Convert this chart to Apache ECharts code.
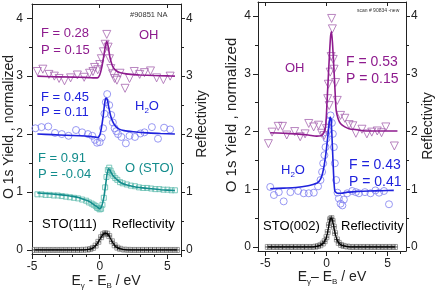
<!DOCTYPE html>
<html>
<head>
<meta charset="utf-8">
<script src="https://cdn.jsdelivr.net/npm/echarts@6/dist/echarts.min.js"></script>
<style>
  html, body { margin: 0; padding: 0; background: #fff; }
  #chart { width: 438px; height: 294px; }
</style>
</head>
<body>
<div id="chart"></div>
<script>
  // ---- left panel, STO(111) ----
  const lOhX = [-4.6,-4.2,-3.75,-3.35,-3.0,-2.6,-2.15,-1.65,-1.15,-0.75,-0.5,-0.38,-0.15,0.0,0.12,0.27,0.4,0.52,0.62,0.72,0.82,0.95,1.1,1.27,1.5,1.87,2.2,2.55,2.95,3.3,3.75,4.2,4.7,5.2];
  const lOhY = [3.08,3.12,3.03,3.0,2.96,2.92,2.97,3.02,2.98,3.05,3.08,3.15,3.11,3.2,3.3,3.42,3.55,3.72,3.5,3.3,3.13,3.04,2.96,2.93,3.05,2.79,2.96,3.08,3.03,3.06,3.09,2.97,2.94,3.0];
  const lOhFitX = [-4.6,-3.5,-2.5,-1.5,-0.8,-0.4,-0.17,0.0,0.15,0.3,0.42,0.52,0.62,0.75,0.9,1.05,1.3,1.7,2.3,3.0,4.0,5.0,5.55];
  const lOhFitY = [3.0,2.99,2.985,2.98,2.975,2.97,2.97,3.02,3.15,3.35,3.52,3.6,3.52,3.33,3.2,3.13,3.08,3.05,3.03,3.02,3.01,3.005,3.0];

  const lH2oX = [-4.75,-4.3,-3.8,-3.3,-2.8,-2.3,-1.75,-1.3,-0.87,-0.55,-0.35,-0.2,0.0,0.15,0.25,0.35,0.45,0.55,0.7,0.85,0.97,1.1,1.22,1.35,1.6,1.93,2.2,2.6,3.0,3.3,3.85,4.3,4.75,5.2];
  const lH2oY = [2.1,2.12,2.13,2.02,2.0,1.97,2.07,2.03,2.0,1.97,1.9,1.85,1.86,1.94,2.1,2.35,2.55,2.69,2.5,2.33,2.2,2.1,2.05,2.0,1.95,1.84,1.97,1.95,2.01,2.03,2.12,1.92,2.11,2.08];
  const lH2oFitX = [-4.6,-3.5,-2.5,-1.5,-0.8,-0.4,-0.15,0.0,0.12,0.25,0.35,0.45,0.55,0.68,0.8,0.95,1.15,1.4,1.8,2.5,3.5,4.5,5.55];
  const lH2oFitY = [2.0,1.99,1.98,1.97,1.96,1.95,1.94,1.98,2.1,2.3,2.5,2.62,2.6,2.45,2.32,2.22,2.14,2.09,2.06,2.04,2.02,2.01,2.0];

  const lStoX = [-4.6,-4.3,-4.0,-3.7,-3.4,-3.1,-2.8,-2.5,-2.2,-1.9,-1.6,-1.3,-1.0,-0.8,-0.6,-0.45,-0.3,-0.2,-0.1,0.0,0.1,0.2,0.3,0.4,0.5,0.6,0.7,0.8,0.9,1.0,1.15,1.3,1.5,1.7,2.0,2.3,2.6,2.9,3.2,3.5,3.8,4.1,4.4,4.7,5.0,5.3,5.55];
  const lStoY = [0.96,0.96,0.95,0.95,0.94,0.94,0.93,0.92,0.91,0.9,0.89,0.87,0.85,0.82,0.8,0.78,0.76,0.73,0.72,0.70,0.71,0.78,0.9,1.08,1.26,1.38,1.42,1.37,1.32,1.28,1.24,1.21,1.17,1.15,1.13,1.11,1.1,1.08,1.07,1.07,1.06,1.05,1.05,1.04,1.04,1.03,1.03];
  const lStoFitX = [-4.6,-4.0,-3.0,-2.4,-2.0,-1.5,-1.16,-0.8,-0.54,-0.3,-0.17,0.0,0.1,0.2,0.32,0.45,0.55,0.65,0.75,0.9,1.1,1.3,1.56,2.0,2.55,3.0,3.8,4.5,5.55];
  const lStoFitY = [0.985,0.975,0.955,0.94,0.925,0.9,0.87,0.84,0.8,0.76,0.74,0.71,0.73,0.8,0.93,1.15,1.32,1.40,1.38,1.31,1.25,1.21,1.16,1.12,1.09,1.075,1.055,1.04,1.025];

  const lReflX = [-4.8,-4.5,-4.2,-3.9,-3.6,-3.3,-3.0,-2.7,-2.4,-2.1,-1.8,-1.5,-1.2,-0.9,-0.7,-0.5,-0.3,-0.1,0.1,0.25,0.4,0.55,0.7,0.9,1.1,1.3,1.5,1.8,2.1,2.4,2.7,3.0,3.3,3.6,3.9,4.2,4.5,4.8,5.1,5.4,5.7];
  const lReflY = [0,0,0,0,0,0,0,0,0,0,0,0,0.002,0.006,0.015,0.035,0.075,0.14,0.22,0.27,0.29,0.28,0.24,0.15,0.08,0.04,0.02,0.006,0.002,0,0,0,0,0,0,0,0,0,0,0,0];

  // ---- right panel, STO(002) ----
  const rOhX = [-4.75,-4.45,-3.95,-3.6,-3.25,-2.6,-2.15,-1.75,-1.45,-1.05,-0.65,-0.4,-0.2,0.0,0.1,0.15,0.22,0.3,0.38,0.42,0.48,0.55,0.62,0.75,0.88,1.15,1.5,1.85,2.15,2.4,2.9,3.3,3.7,4.15,4.5,4.85,5.55];
  const rOhY = [1.79,1.99,2.09,2.09,1.94,2.0,1.91,1.96,2.14,2.08,2.11,1.97,1.93,2.05,2.57,2.82,2.45,3.03,3.3,3.96,3.78,3.25,3.08,2.85,2.54,2.28,2.23,2.12,2.1,1.97,2.04,1.96,1.99,2.01,1.98,2.08,1.75];
  const rOhFitX = [-4.6,-3.5,-2.5,-1.5,-0.8,-0.35,-0.08,0.05,0.19,0.33,0.41,0.5,0.6,0.7,0.79,0.95,1.14,1.5,1.83,2.5,3.2,4.5,5.8];
  const rOhFitY = [1.98,1.97,1.96,1.94,1.92,1.94,2.08,2.54,3.12,3.64,3.73,3.5,3.12,2.7,2.37,2.22,2.14,2.08,2.05,2.03,2.01,2.01,2.01];

  const rH2oX = [-4.6,-4.3,-3.9,-3.5,-2.95,-2.32,-1.86,-1.45,-1.04,-0.69,-0.49,-0.36,-0.27,-0.17,-0.08,0.0,0.11,0.22,0.33,0.44,0.52,0.6,0.68,0.79,0.9,1.01,1.15,1.3,1.42,1.69,2.1,2.4,2.65,3.14,3.6,4.0,4.3,4.7,5.11];
  const rH2oY = [1.04,0.9,0.95,0.79,0.95,0.97,0.93,0.93,0.94,1.05,1.16,1.3,1.45,1.59,1.73,1.88,2.02,2.18,2.28,2.15,1.96,1.73,1.45,1.16,0.94,0.84,0.75,0.72,0.82,0.93,0.97,0.95,0.93,0.95,0.93,0.98,0.94,0.97,0.74];
  const rH2oFitX = [-4.6,-3.5,-2.5,-1.5,-1.0,-0.74,-0.5,-0.33,-0.2,-0.05,0.1,0.22,0.3,0.38,0.45,0.55,0.62,0.68,0.75,0.9,1.2,1.72,2.5,3.5,4.5,5.5];
  const rH2oFitY = [1.01,1.02,1.03,1.06,1.09,1.11,1.17,1.27,1.4,1.62,1.9,2.15,2.25,2.2,1.9,1.4,1.1,0.97,0.95,0.93,0.93,0.95,0.96,0.97,0.975,0.98];

  const rReflX = [-4.8,-4.5,-4.2,-3.9,-3.6,-3.3,-3.0,-2.7,-2.4,-2.1,-1.8,-1.5,-1.2,-0.9,-0.7,-0.5,-0.3,-0.15,0.0,0.1,0.2,0.3,0.4,0.5,0.6,0.7,0.85,1.0,1.2,1.4,1.7,2.0,2.3,2.6,2.9,3.2,3.5,3.8,4.1,4.4,4.7,5.0,5.3,5.6];
  const rReflY = [0,0,0,0,0,0,0,0,0,0,0,0,0,0.005,0.015,0.03,0.06,0.1,0.17,0.26,0.38,0.48,0.5,0.45,0.35,0.24,0.13,0.07,0.035,0.018,0.007,0,0,0,0,0,0,0,0,0,0,0,0,0];

  // ticks
  const yMajor = [0, 1, 2, 3, 4];
  const yMinor = [0.5, 1.5, 2.5, 3.5];
  const xMajor = [-5, 0, 5];
  const xMinor = [-4, -3, -2, -1, 1, 2, 3, 4, 6];

  const FONT = "Liberation Sans, Arial, sans-serif";
  const INK = "#222";
  const PURPLE = "#8e1b8e", PURPLE_PT = "#a866b0";
  const BLUE = "#1f22dd", BLUE_PT = "#7f7ff0";
  const TEAL = "#138c8c", TEAL_PT = "#5fbcae";

  function pts(xs, ys) { return xs.map((x, i) => [x, ys[i]]); }

  function xAx(grid, pos, range, ticks, labels, len, inside, line) {
    return {
      type: "value", gridIndex: grid, position: pos, min: range[0], max: range[1],
      axisLine: { show: line, onZero: false, lineStyle: { color: INK } },
      axisTick: { show: true, inside: inside, length: len, customValues: ticks, lineStyle: { color: INK } },
      axisLabel: labels
        ? { show: true, customValues: labels, margin: 7, color: INK, fontSize: 12, fontFamily: FONT }
        : { show: false },
      splitLine: { show: false },
    };
  }

  function yAx(grid, pos, ticks, labels, len, margin, line) {
    return {
      type: "value", gridIndex: grid, position: pos, min: -0.07, max: 4.245, offset: 0,
      axisLine: { show: line, onZero: false, lineStyle: { color: INK } },
      axisTick: { show: true, length: len, customValues: ticks, lineStyle: { color: INK } },
      axisLabel: labels
        ? { show: true, customValues: labels, margin: margin, color: INK, fontSize: 12, fontFamily: FONT }
        : { show: false },
      splitLine: { show: false },
    };
  }

  function scatter(xi, yi, data, symbol, size, color, rotate) {
    return {
      type: "scatter", xAxisIndex: xi, yAxisIndex: yi, data: data, z: 2,
      symbol: symbol, symbolSize: size, symbolRotate: rotate || 0,
      itemStyle: { color: "rgba(0,0,0,0)", borderColor: color, borderWidth: 1 },
      silent: true,
    };
  }

  function fit(xi, yi, data, color, width) {
    return {
      type: "line", xAxisIndex: xi, yAxisIndex: yi, data: data, z: 3,
      showSymbol: false, smooth: 0.25,
      lineStyle: { color: color, width: width || 1.6 },
      silent: true,
    };
  }

  const PLUS = "path://M5,0L5,10M0,5L10,5";

  function txt(x, y, text, color, size, align) {
    return {
      type: "text", x: x, y: y, silent: true,
      style: { text: text, fill: color, font: size + "px " + FONT, align: align || "left", verticalAlign: "middle" },
    };
  }

  function subTxt(x, y, parts, color, size, align) {
    return {
      type: "text", x: x, y: y, silent: true,
      style: {
        text: parts, align: align || "left", verticalAlign: "middle",
        fill: color, font: size + "px " + FONT,
        rich: {
          n: { fill: color, color: color, fontSize: size, fontFamily: FONT },
          s: { fill: color, color: color, fontSize: 8, fontFamily: FONT, padding: [10, 0, 0, 0] },
        },
      },
    };
  }

  function vTxt(x, y, text, size) {
    return {
      type: "text", x: x, y: y, rotation: Math.PI / 2, silent: true,
      style: { text: text, fill: INK, font: size + "px " + FONT, align: "center", verticalAlign: "middle" },
    };
  }

  const chart = echarts.init(document.getElementById("chart"), null, { renderer: "canvas" });

  chart.setOption({
    animation: false,
    backgroundColor: "#fff",
    grid: [
      { left: 32, top: 4, width: 149, height: 250 },
      { left: 258, top: 2, width: 148, height: 249 },
    ],
    xAxis: [
      xAx(0, "bottom", [-5, 6], xMajor, xMajor, 5, false, true),
      xAx(0, "bottom", [-5, 6], xMinor, null, 3, false, false),
      xAx(0, "top", [-5, 6], xMajor, null, 4, true, true),
      xAx(1, "bottom", [-5.6, 6.5], xMajor, xMajor, 5, false, true),
      xAx(1, "bottom", [-5.6, 6.5], xMinor, null, 3, false, false),
      xAx(1, "top", [-5.6, 6.5], xMajor, null, 4, true, true),
    ],
    yAxis: [
      yAx(0, "left", yMajor, yMajor, 5, 9, true),
      yAx(0, "left", yMinor, null, 3, 0, false),
      yAx(0, "right", yMajor, yMajor, 4, 5, true),
      yAx(0, "right", yMinor, null, 3, 0, false),
      yAx(1, "left", yMajor, yMajor, 5, 7, true),
      yAx(1, "left", yMinor, null, 3, 0, false),
      yAx(1, "right", yMajor, yMajor, 4, 5, true),
      yAx(1, "right", yMinor, null, 3, 0, false),
    ],
    series: [
      // left
      scatter(0, 0, pts(lReflX, lReflY), "rect", 5, "#8a8a8a"),
      scatter(0, 0, pts(lReflX, lReflY), PLUS, 5, "#222"),
      fit(0, 0, pts(lReflX, lReflY), "#000", 1.2),
      scatter(0, 0, pts(lStoX, lStoY), "rect", 5, TEAL_PT),
      fit(0, 0, pts(lStoFitX, lStoFitY), TEAL),
      scatter(0, 0, pts(lH2oX, lH2oY), "circle", 7, BLUE_PT),
      fit(0, 0, pts(lH2oFitX, lH2oFitY), BLUE),
      scatter(0, 0, pts(lOhX, lOhY), "triangle", 8, PURPLE_PT, 180),
      fit(0, 0, pts(lOhFitX, lOhFitY), PURPLE),
      // right
      scatter(3, 4, pts(rReflX, rReflY), "rect", 5, "#8a8a8a"),
      scatter(3, 4, pts(rReflX, rReflY), PLUS, 5, "#222"),
      fit(3, 4, pts(rReflX, rReflY), "#000", 1.2),
      scatter(3, 4, pts(rH2oX, rH2oY), "circle", 7, BLUE_PT),
      fit(3, 4, pts(rH2oFitX, rH2oFitY), BLUE),
      scatter(3, 4, pts(rOhX, rOhY), "triangle", 8, PURPLE_PT, 180),
      fit(3, 4, pts(rOhFitX, rOhFitY), PURPLE),
    ],
    graphic: [
      // left panel labels
      txt(130, 15, "#90851 NA", "#333", 7.5),
      txt(41, 33, "F = 0.28", PURPLE, 13),
      txt(41, 50, "P = 0.15", PURPLE, 13),
      txt(139, 35, "OH", PURPLE, 13),
      txt(41, 97, "F = 0.45", BLUE, 13),
      txt(41, 112, "P = 0.11", BLUE, 13),
      subTxt(135, 106, "{n|H}{s|2}{n|O}", BLUE, 13),
      txt(38, 158, "F = 0.91", TEAL, 13),
      txt(38, 174, "P = -0.04", TEAL, 13),
      txt(125, 168, "O (STO)", TEAL, 13),
      txt(42, 224, "STO(111)", "#000", 13),
      txt(112, 224, "Reflectivity", "#000", 13),
      // right panel labels
      txt(357, 11, "scan # 90834 -new", "#333", 5),
      txt(285, 68, "OH", PURPLE, 13),
      txt(346, 62, "F = 0.53", PURPLE, 14),
      txt(346, 79, "P = 0.15", PURPLE, 14),
      subTxt(281, 170, "{n|H}{s|2}{n|O}", BLUE, 13),
      txt(349, 165, "F = 0.43", BLUE, 14),
      txt(349, 182, "P = 0.41", BLUE, 14),
      txt(263, 226, "STO(002)", "#000", 13),
      txt(341, 226, "Reflectivity", "#000", 13),
      // axis titles
      vTxt(9, 127, "O 1s Yield , normalized", 14),
      vTxt(202, 124, "Reflectivity", 14),
      vTxt(232, 115, "O 1s Yield , normalized", 15),
      vTxt(428, 126, "Reflectivity", 14),
      subTxt(106, 281, "{n|E}{s|γ}{n| - E}{s|B}{n| / eV}", "#222", 14, "center"),
      subTxt(332, 277, "{n|E}{s|γ}{n|– E}{s|B}{n| / eV}", "#222", 14, "center"),
    ],
  });
</script>
</body>
</html>
